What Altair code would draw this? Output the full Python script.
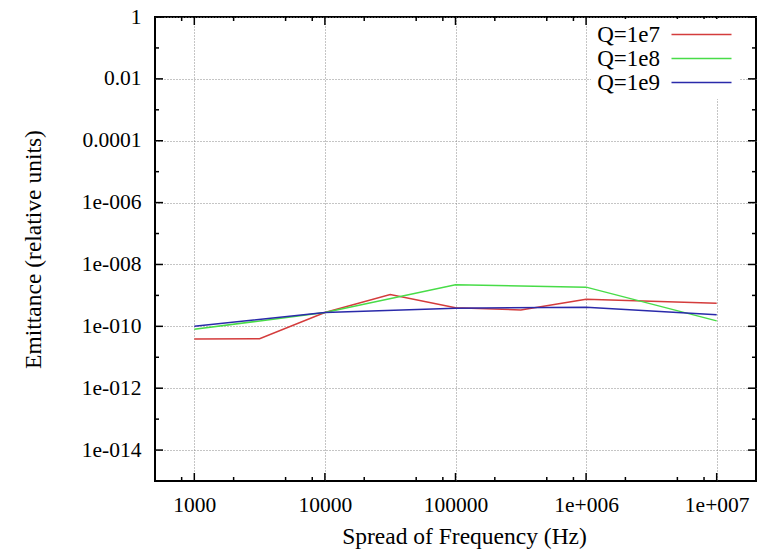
import altair as alt
import pandas as pd

# ---------------- data ----------------
series_names = ["Q=1e7", "Q=1e8", "Q=1e9"]
series_colors = ["#d43c3c", "#48dc48", "#2a2aaa"]

q7_freq = [1000, 3162, 10000, 31623, 100000, 316228, 1000000, 10000000]
q7_emit = [3.9e-11, 4.0e-11, 2.8e-10, 1.07e-9, 4.0e-10, 3.4e-10, 7.5e-10, 5.6e-10]

q8_freq = [1000, 10000, 100000, 1000000, 10000000]
q8_emit = [8.0e-11, 2.8e-10, 2.2e-9, 1.85e-9, 1.5e-10]

q9_freq = [1000, 10000, 100000, 1000000, 10000000]
q9_emit = [1.0e-10, 2.8e-10, 3.85e-10, 4.15e-10, 2.35e-10]

x_major = [1e3, 1e4, 1e5, 1e6, 1e7]
x_labels = ["1000", "10000", "100000", "1e+006", "1e+007"]
x_minor = [800, 2000, 5000, 8000, 2e4, 5e4, 8e4, 2e5, 5e5, 8e5, 2e6, 5e6, 8e6]

y_major = [1, 1e-2, 1e-4, 1e-6, 1e-8, 1e-10, 1e-12, 1e-14]
y_labels = ["1", "0.01", "0.0001", "1e-006", "1e-008", "1e-010", "1e-012", "1e-014"]
y_minor = [1e-1, 1e-3, 1e-5, 1e-7, 1e-9, 1e-11, 1e-13]

x_domain = [500, 2e7]
y_domain = [1e-15, 1]

# ---------------- build table ----------------
rows = []
for name, fx, fy in zip(series_names, [q7_freq, q8_freq, q9_freq], [q7_emit, q8_emit, q9_emit]):
    for a, b in zip(fx, fy):
        rows.append({"series": name, "freq": a, "emit": b})
df = pd.DataFrame(rows)

FONT = "Liberation Serif"
W, H = 601, 464

xs = alt.Scale(type="log", domain=x_domain, nice=False)
ys = alt.Scale(type="log", domain=y_domain, nice=False)

x_expr = "[" + ",".join(f"'{s}'" for s in x_labels) + "][round(log(datum.value)/LN10)-3]"
y_expr = "[" + ",".join(f"'{s}'" for s in y_labels) + "][round(-log(datum.value)/LN10/2)]"

x_axis = alt.Axis(
    values=x_major, labelExpr=x_expr, ticks=False, tickSize=0, domain=False,
    grid=True, gridDash=[1, 2], gridColor="#8a8a8a", gridWidth=1,
    labelFont=FONT, labelFontSize=21.5, labelColor="black", labelPadding=13,
    title="Spread of Frequency (Hz)", titleFont=FONT, titleFontSize=23.5,
    titleFontWeight="normal", titleColor="black", titleX=309, titleY=62,
    titleBaseline="alphabetic", titleAlign="center",
)
y_axis = alt.Axis(
    values=y_major, labelExpr=y_expr, ticks=False, tickSize=0, domain=False,
    grid=True, gridDash=[1, 2], gridColor="#8a8a8a", gridWidth=1,
    labelFont=FONT, labelFontSize=21.5, labelColor="black", labelPadding=14,
    title="Emittance (relative units)", titleFont=FONT, titleFontSize=23.5,
    titleFontWeight="normal", titleColor="black", titleX=-115, titleY=232,
    titleAngle=270, titleBaseline="alphabetic", titleAlign="center",
)

lines = alt.Chart(df).mark_line(strokeWidth=1.5).encode(
    x=alt.X("freq:Q", scale=xs, axis=x_axis),
    y=alt.Y("emit:Q", scale=ys, axis=y_axis),
    color=alt.Color(
        "series:N",
        scale=alt.Scale(domain=series_names, range=series_colors),
        title=None,
        legend=alt.Legend(
            orient="none", legendX=436, legendY=2,
            symbolType="M6.5,0H12.5", symbolSize=400, symbolStrokeWidth=1.5,
            symbolOffset=0, labelAlign="right", labelOffset=42,
            labelFont=FONT, labelFontSize=23, labelColor="black",
            fillColor="white", padding=4, rowPadding=0,
        ),
    ),
)

xmaj = pd.DataFrame({"v": x_major})
xmin = pd.DataFrame({"v": x_minor})
ymaj = pd.DataFrame({"v": y_major})
ymin = pd.DataFrame({"v": y_minor})


def xticks(data, y0, y1):
    return alt.Chart(data).mark_rule(color="black", strokeWidth=1.5).encode(
        x=alt.X("v:Q", scale=xs, axis=x_axis), y=alt.value(y0), y2=alt.value(y1)
    )


def yticks(data, x0, x1):
    return alt.Chart(data).mark_rule(color="black", strokeWidth=1.5).encode(
        y=alt.Y("v:Q", scale=ys, axis=y_axis), x=alt.value(x0), x2=alt.value(x1)
    )


ticks = [
    xticks(xmaj, H, H - 8), xticks(xmaj, 0, 8),
    xticks(xmin, H, H - 4), xticks(xmin, 0, 4),
    yticks(ymaj, 0, 8), yticks(ymaj, W, W - 8),
    yticks(ymin, 0, 4), yticks(ymin, W, W - 4),
]

chart = alt.layer(*ticks, lines).properties(
    width=W, height=H,
    autosize=alt.AutoSizeParams(type="none"),
    padding={"left": 155, "top": 17, "right": 2, "bottom": 68},
    background="white",
).configure_view(stroke="black", strokeWidth=2)

chart.save("out.html", embed_options={"renderer": "svg", "actions": False})
